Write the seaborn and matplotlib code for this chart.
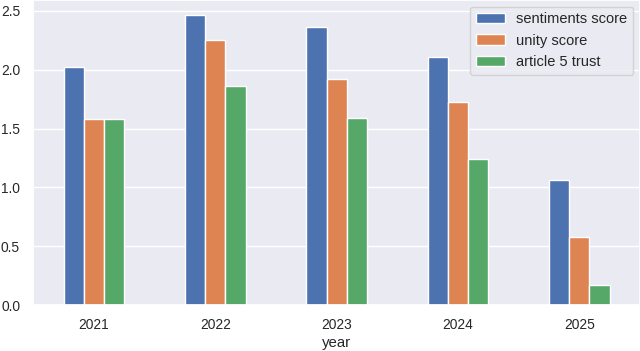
import numpy as np
import pandas as pd
import matplotlib
matplotlib.use("Agg")
import matplotlib.pyplot as plt
import seaborn as sns

years = ["2021", "2022", "2023", "2024", "2025"]
sentiments_score = [2.02, 2.47, 2.36, 2.11, 1.06]
unity_score = [1.58, 2.25, 1.92, 1.73, 0.58]
article5_trust = [1.58, 1.86, 1.59, 1.24, 0.17]

sns.set_theme(style="darkgrid", font_scale=0.9)
plt.rcParams["font.family"] = ["Liberation Sans", "DejaVu Sans"]

df = pd.DataFrame({
    "year": years * 3,
    "value": sentiments_score + unity_score + article5_trust,
    "series": ["sentiments score"] * 5 + ["unity score"] * 5 + ["article 5 trust"] * 5,
})

fig = plt.figure(figsize=(6.4, 3.51), dpi=100)
ax = fig.add_axes([0.052, 0.131, 0.948, 0.869])
sns.barplot(data=df, x="year", y="value", hue="series", width=0.5,
            saturation=1, edgecolor="white", linewidth=1, ax=ax)

ax.set_xlim(-0.5, 4.5)
ax.set_ylim(0, max(sentiments_score) * 1.05)
ax.set_ylabel("")
ax.set_xlabel("year", labelpad=3)
ax.legend(loc="upper right", title=None, fontsize=10.5, borderaxespad=0.45)

fig.savefig("out.png", dpi=100)
